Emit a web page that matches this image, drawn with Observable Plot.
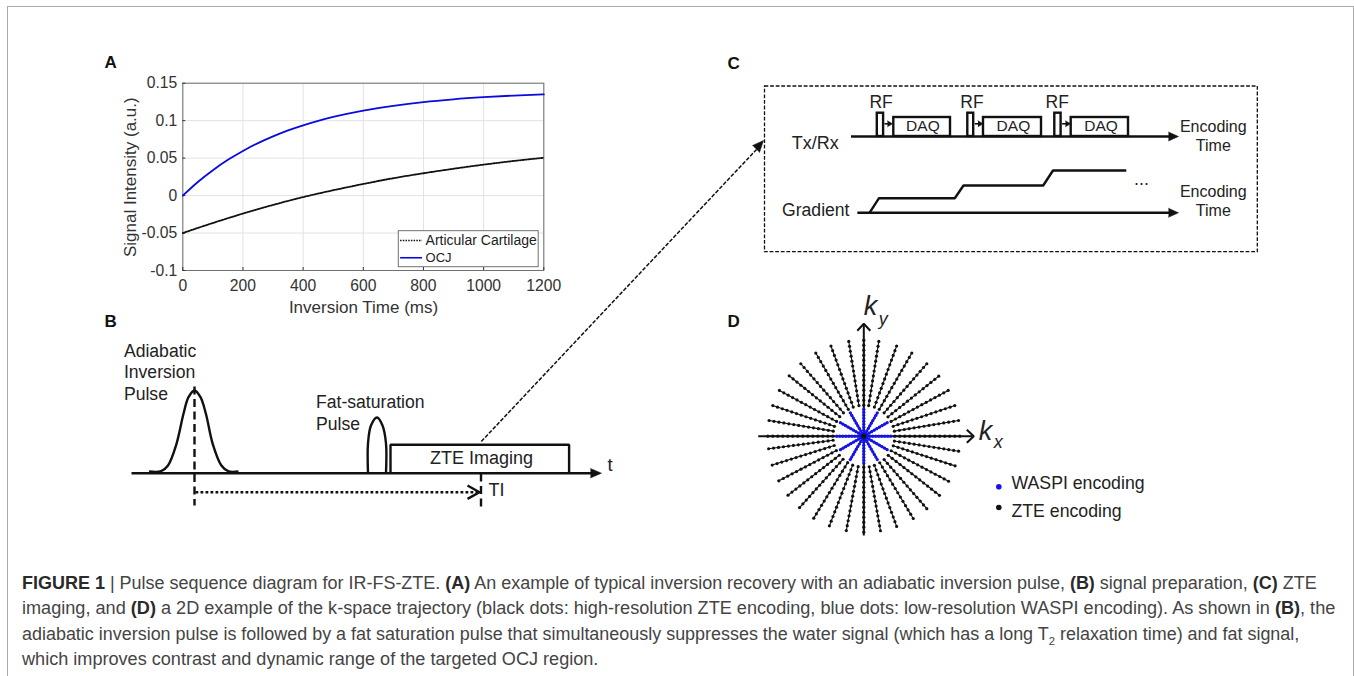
<!DOCTYPE html>
<html><head><meta charset="utf-8">
<script src="https://cdn.jsdelivr.net/npm/d3@7"></script>
<script src="https://cdn.jsdelivr.net/npm/@observablehq/plot@0.6"></script>
<style>
html,body{margin:0;padding:0;background:#fff;font-family:"Liberation Sans",Arial,sans-serif}
#page{position:relative;width:1354px;height:676px;overflow:hidden}
#page svg{position:absolute;left:0;top:0;background:transparent;overflow:visible}
#frame{position:absolute;left:7px;top:6px;width:1345px;height:700px;border:1.5px solid #aaa}
.cap{position:absolute;left:22px;white-space:nowrap;font-size:17.5px;line-height:20px;color:#444;transform-origin:0 50%}
.cap b{color:#2a2a2a}
.cap sub{font-size:11px;line-height:0}
</style></head>
<body><div id="page"><div id="frame"></div></div>
<script>
// ---- Panel A data
const inversionTime = [0,50,100,150,200,250,300,350,400,450,500,600,700,800,900,1000,1100,1200];
const cartilage = [-0.05,-0.0432,-0.0366,-0.0302,-0.024,-0.0181,-0.0125,-0.0071,-0.002,0.0027,0.0071,0.0155,0.0232,0.0298,0.0358,0.0413,0.0462,0.0505];
const ocj = [0,0.0182,0.0339,0.0477,0.0596,0.0700,0.0790,0.0870,0.0938,0.0998,0.1050,0.1135,0.1198,0.1248,0.1285,0.1313,0.1335,0.135];
const xTicks = [0,200,400,600,800,1000,1200];
const yTicks = [-0.1,-0.05,0,0.05,0.1,0.15];
const legendNames = ["Articular Cartilage","OCJ"];
const legendBox = {x1:718,x2:1183,y1:-0.0956,y2:-0.0475};

// ---- Panel B schematic (page units)
const bAxis = [[131,472.7],[594,472.7]];
const bAxisHead = [[590,468],[601,472.7],[590,477.4]];
const inversionPulse = [[148.5,471],[160.6,470.7],[167.5,465],[176,443.3],[183,413.3],[188,396.7],[194,390],[200,396.7],[205.4,413.3],[212.2,443.3],[220.9,465],[227.7,470.7],[238,471]];
const fatPulse = [[367.5,472.7],[367.5,443],[370.5,425],[376.5,417],[382,425],[385.5,443],[385.5,472.7]];
const zteBox = [[390,472.7],[390,444.3],[568.6,444.3],[568.6,472.7]];
const inversionMarker = [[194,386],[194,505]];
const tiMarker = [[480.5,473],[480.5,510]];
const tiArrow = [[195,491.7],[478,491.7]];
const tiArrowHead = [[467,485],[479,491.7],[467,498.4]];
const connector = [[480.8,441],[756,149]];
const connectorHead = [[752,145],[763,140],[759,152]];
const bLabels = [
  {t:"Adiabatic",x:123.4,y:350.7},{t:"Inversion",x:123.4,y:372},{t:"Pulse",x:123.4,y:393.5},
  {t:"Fat-saturation",x:315.5,y:402},{t:"Pulse",x:315.5,y:424}
];
const panelLetters = [{t:"A",x:104,y:62},{t:"B",x:104,y:321.5},{t:"C",x:727,y:63},{t:"D",x:727,y:321.5}];

// ---- Panel C schematic (page units)
const cBox = {x1:764.5,x2:1257.3,y1:86,y2:251.7};
const txAxis = [[850.5,136],[1170,136]];
const gradAxis = [[856.8,212.3],[1170,212.3]];
const axisHeads = [
  [[1168,131.5],[1178,136],[1168,140.5]],
  [[1168,207.8],[1178,212.3],[1168,216.8]]
];
const rfBoxes = [[876.8,883.1],[967.3,973.2],[1054.3,1060.6]];
const daqBoxes = [[893.3,950],[983,1041],[1070.7,1128]];
const smallArrows = [[[884,123.3],[888,123.3]],[[974.3,123.3],[978.5,123.3]],[[1061.6,123.3],[1066,123.3]]];
const smallHeads = [
  [[887,120.3],[892,123.3],[887,126.3]],
  [[977.5,120.3],[982.5,123.3],[977.5,126.3]],
  [[1065,120.3],[1070,123.3],[1065,126.3]]
];
const gradSteps = [[869,212.3],[878.5,197.7],[954.3,197.7],[963,185],[1042.7,185],[1052.5,170],[1125.8,170]];
const rfLabels = [880.6,971.5,1056.7];
const daqLabels = [922.4,1012.9,1100.6];
const cLabels = [
  {t:"Encoding",x:1212.8,y:126.7},{t:"Time",x:1212.8,y:145.7},
  {t:"Encoding",x:1212.8,y:191.7},{t:"Time",x:1212.8,y:210.7}
];

// ---- Panel D: k-space trajectory
const spokeAngles = [0,9.4,18.6,28.5,38.7,49,60,70,81,90,99,110,120,131,141,151.5,161.4,170.6,180,187.5,197.5,207.7,217.9,228,238.6,249,259.5,270,280,290,301,311,322,332,342,351];
const zteRadii = [31,36,41,46,51,56,61,66,71,76,81,86,91,96];
const waspiAngles = [0,30,60,90,120,150,180,210,240,270,300,330];
const waspiRadii = [3,6,9,12,15,18,21,24,27];
const kAxisX = [[-105.6,0],[109,0]];
const kAxisY = [[0,-99.3],[0,111.5]];
const kHeadX = [[103,6.5],[110,0],[103,-6.5]];
const kHeadY = [[-6.5,105.5],[0,112.4],[6.5,105.5]];

const font = "Liberation Sans, Arial, sans-serif";
const ink = "#111";
const path = (pts,o={}) => Plot.line(pts,{x:d=>d[0],y:d=>d[1],stroke:ink,strokeWidth:2.4,strokeLinejoin:"miter",strokeLinecap:"butt",...o});
const poly = pts => Plot.line(pts,{x:d=>d[0],y:d=>d[1],fill:ink,stroke:ink,strokeWidth:0.5});
const label = (data,o={}) => Plot.text(data,{text:"t",x:"x",y:"y",fontSize:17.6,fill:"#222",fontFamily:font,textAnchor:"start",lineAnchor:"middle",...o});

// ---- Panel A plot
const table = inversionTime.map((t,i)=>({t,c:cartilage[i],o:ocj[i]}));
const panelA = Plot.plot({
  width:570,height:330,
  marginLeft:182.3,marginRight:26.7,marginTop:82.7,marginBottom:60,
  style:{fontFamily:font,background:"transparent"},
  x:{domain:[0,1200]},y:{domain:[-0.1,0.15]},
  marks:[
    Plot.gridX(xTicks,{stroke:"#e2e2e2",strokeOpacity:1,strokeWidth:1}),
    Plot.gridY(yTicks,{stroke:"#e2e2e2",strokeOpacity:1,strokeWidth:1}),
    Plot.frame({stroke:"#707070",strokeWidth:1}),
    Plot.axisX({ticks:xTicks,tickSize:-3,tickPadding:12,fontSize:15.7,color:"#333",tickFormat:d=>String(d),label:null}),
    Plot.axisY({ticks:yTicks,tickSize:-3,tickPadding:8.5,fontSize:15.7,color:"#333",tickFormat:d=>String(d),label:null}),
    Plot.lineY(table,{x:"t",y:"c",stroke:"#111",strokeWidth:1.8,strokeDasharray:"1.5,1.2",curve:"monotone-x"}),
    Plot.lineY(table,{x:"t",y:"o",stroke:"#0a0adf",strokeWidth:1.8,curve:"monotone-x"}),
    Plot.rect([legendBox],{x1:"x1",x2:"x2",y1:"y1",y2:"y2",fill:"#fff",stroke:"#707070",strokeWidth:1}),
    Plot.ruleY([-0.06],{x1:724,x2:797,stroke:"#111",strokeWidth:1.6,strokeDasharray:"1.5,1.2"}),
    Plot.ruleY([-0.083],{x1:724,x2:797,stroke:"#0a0adf",strokeWidth:1.6}),
    Plot.text([legendNames[0]],{x:()=>807,y:()=>-0.0605,text:d=>d,textAnchor:"start",fontSize:14,fill:"#222",fontFamily:font}),
    Plot.text([legendNames[1]],{x:()=>807,y:()=>-0.0835,text:d=>d,textAnchor:"start",fontSize:13,fill:"#222",fontFamily:font})
  ]
});

// ---- Schematic plot
const schem = Plot.plot({
  width:1354,height:676,margin:0,
  style:{fontFamily:font,background:"transparent"},
  x:{domain:[0,1354],axis:null},y:{domain:[0,676],reverse:true,axis:null},
  marks:[
    // panel A axis titles
    label([{t:"Inversion Time (ms)",x:363,y:307}],{textAnchor:"middle",fontSize:17,fill:"#333"}),
    label([{t:"Signal Intensity (a.u.)",x:130,y:176.7}],{textAnchor:"middle",fontSize:17,fill:"#333",rotate:-90}),
    // panel B
    path(bAxis),poly(bAxisHead),
    path(inversionPulse,{curve:"catmull-rom"}),
    path(fatPulse,{curve:"catmull-rom"}),
    path(zteBox),
    path(inversionMarker,{strokeDasharray:"8,4.5"}),
    path(tiMarker,{strokeDasharray:"8,4.5"}),
    path(tiArrow,{strokeWidth:2.6,strokeDasharray:"2.8,2.2"}),
    path(tiArrowHead,{strokeWidth:2.4}),
    path(connector,{strokeWidth:1.5,strokeDasharray:"4,1.6"}),poly(connectorHead),
    label(bLabels),
    label([{t:"ZTE Imaging",x:481,y:457.5}],{textAnchor:"middle",fontSize:18}),
    label([{t:"TI",x:488,y:490}],{fontSize:18}),
    label([{t:"t",x:607,y:465}],{fontSize:18.5}),
    Plot.text(panelLetters,{text:"t",x:"x",y:"y",fontSize:17,fontWeight:"bold",fill:"#111",fontFamily:font,textAnchor:"start",lineAnchor:"middle"}),
    // panel C
    Plot.rect([cBox],{x1:"x1",x2:"x2",y1:"y1",y2:"y2",fill:"none",stroke:ink,strokeWidth:1.3,strokeDasharray:"3.8,1.8"}),
    path(txAxis),path(gradAxis),
    ...axisHeads.map(poly),
    Plot.rect(rfBoxes,{x1:d=>d[0],x2:d=>d[1],y1:()=>112.7,y2:()=>136,fill:"#fff",stroke:ink,strokeWidth:2.4}),
    Plot.rect(daqBoxes,{x1:d=>d[0],x2:d=>d[1],y1:()=>117,y2:()=>136,fill:"#fff",stroke:ink,strokeWidth:2.4}),
    ...smallArrows.map(a=>path(a,{strokeWidth:1.6})),
    ...smallHeads.map(poly),
    path(gradSteps),
    Plot.text(rfLabels,{x:d=>d,y:()=>102.3,text:()=>"RF",fontSize:17.5,fill:"#222",fontFamily:font}),
    Plot.text(daqLabels,{x:d=>d,y:()=>126,text:()=>"DAQ",fontSize:15.5,fill:"#222",fontFamily:font}),
    label(cLabels,{textAnchor:"middle",fontSize:16}),
    label([{t:"Tx/Rx",x:814.7,y:142.3}],{textAnchor:"middle",fontSize:18}),
    label([{t:"Gradient",x:849,y:210}],{textAnchor:"end"}),
    label([{t:"...",x:1141,y:179}],{textAnchor:"middle",fontSize:18}),
    label([{t:"WASPI encoding",x:1011,y:483},{t:"ZTE encoding",x:1011,y:511}],{fontSize:17.7})
  ]
});

// ---- Panel D plot (k-space units, origin at the centre of the spokes)
const rad = a => a*Math.PI/180;
const zteDots = spokeAngles.flatMap(a=>zteRadii.map(r=>({kx:r*Math.cos(rad(a)),ky:r*Math.sin(rad(a))})));
const waspiDots = waspiAngles.flatMap(a=>waspiRadii.map(r=>({kx:r*Math.cos(rad(a)),ky:r*Math.sin(rad(a))})));
const zteSpokes = spokeAngles.map(a=>({x1:31*Math.cos(rad(a)),y1:31*Math.sin(rad(a)),x2:96*Math.cos(rad(a)),y2:96*Math.sin(rad(a))}));
const waspiSpokes = waspiAngles.map(a=>({x1:0,y1:0,x2:27*Math.cos(rad(a)),y2:27*Math.sin(rad(a))}));
const panelD = Plot.plot({
  width:1354,height:676,margin:0,
  style:{fontFamily:font,background:"transparent"},
  x:{domain:[-863.3,490.7],axis:null},y:{domain:[-240.3,435.7],axis:null},
  marks:[
    Plot.link(zteSpokes,{x1:"x1",y1:"y1",x2:"x2",y2:"y2",stroke:ink,strokeWidth:1.1}),
    Plot.dot(zteDots,{x:"kx",y:"ky",r:1.6,fill:ink}),
    path(kAxisX,{strokeWidth:2}),path(kAxisY,{strokeWidth:2}),
    path(kHeadX,{strokeWidth:2}),path(kHeadY,{strokeWidth:2}),
    Plot.link(waspiSpokes,{x1:"x1",y1:"y1",x2:"x2",y2:"y2",stroke:"#1414e6",strokeWidth:2}),
    Plot.dot(waspiDots,{x:"kx",y:"ky",r:1.6,fill:"#1414e6"}),
    Plot.dot([[0,0]],{x:d=>d[0],y:d=>d[1],r:2.5,fill:ink}),
    Plot.dot([[135,-50.6]],{x:d=>d[0],y:d=>d[1],r:2.8,fill:"#1414e6"}),
    Plot.dot([[135,-71.3]],{x:d=>d[0],y:d=>d[1],r:2.8,fill:ink}),
    Plot.text(["k"],{x:()=>115,y:()=>5,text:d=>d,fontSize:27,fontStyle:"italic",fill:"#222",fontFamily:font,textAnchor:"start"}),
    Plot.text(["x"],{x:()=>130,y:()=>-6,text:d=>d,fontSize:18,fontStyle:"italic",fill:"#222",fontFamily:font,textAnchor:"start"}),
    Plot.text(["k"],{x:()=>0,y:()=>130,text:d=>d,fontSize:27,fontStyle:"italic",fill:"#222",fontFamily:font,textAnchor:"start"}),
    Plot.text(["y"],{x:()=>15,y:()=>117,text:d=>d,fontSize:18,fontStyle:"italic",fill:"#222",fontFamily:font,textAnchor:"start"})
  ]
});

const page = document.getElementById("page");
page.append(panelA,schem,panelD);

// ---- Caption
const captionLines = [
  {y:583,w:1294.7,h:'<b>FIGURE 1</b> | Pulse sequence diagram for IR-FS-ZTE. <b>(A)</b> An example of typical inversion recovery with an adiabatic inversion pulse, <b>(B)</b> signal preparation, <b>(C)</b> ZTE'},
  {y:608,w:1313.3,h:'imaging, and <b>(D)</b> a 2D example of the k-space trajectory (black dots: high-resolution ZTE encoding, blue dots: low-resolution WASPI encoding). As shown in <b>(B)</b>, the'},
  {y:634,w:1277.3,h:'adiabatic inversion pulse is followed by a fat saturation pulse that simultaneously suppresses the water signal (which has a long T<sub>2</sub> relaxation time) and fat signal,'},
  {y:659,w:576.4,h:'which improves contrast and dynamic range of the targeted OCJ region.'}
];
captionLines.forEach(l=>{
  const d=document.createElement("div");
  d.className="cap";d.innerHTML=l.h;d.style.top=(l.y-10)+"px";
  page.append(d);
  d.style.transform=`scaleX(${l.w/d.getBoundingClientRect().width})`;
});
</script></body></html>
